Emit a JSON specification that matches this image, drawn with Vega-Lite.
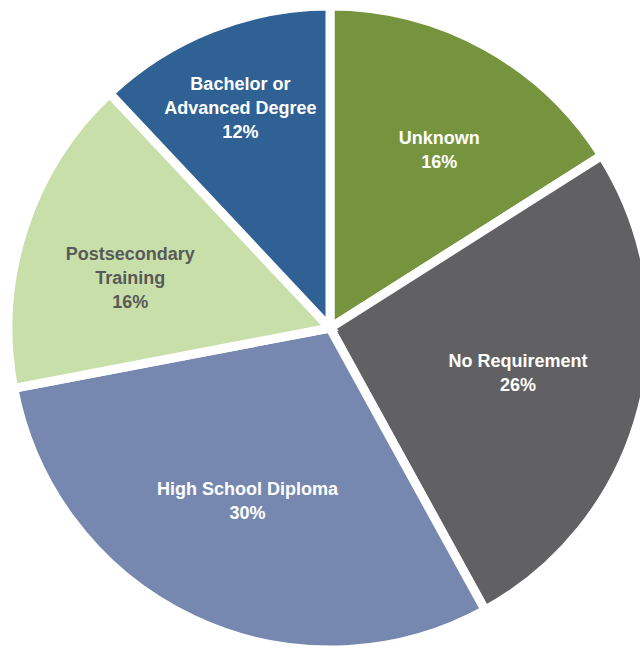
{
  "$schema": "https://vega.github.io/schema/vega-lite/v6.json",
  "width": 620,
  "height": 644,
  "autosize": {"type": "none"},
  "padding": {"left": 20, "top": 6, "right": 0, "bottom": 0},
  "background": "white",
  "data": {
    "values": [
      {"rank": 1, "category": "Unknown", "value": 16, "label": "Unknown\n16%"},
      {"rank": 2, "category": "No Requirement", "value": 26, "label": "No Requirement\n26%"},
      {"rank": 3, "category": "High School Diploma", "value": 30, "label": "High School Diploma\n30%"},
      {"rank": 4, "category": "Postsecondary Training", "value": 16, "label": "Postsecondary\nTraining\n16%"},
      {"rank": 5, "category": "Bachelor or Advanced Degree", "value": 12, "label": "Bachelor or\nAdvanced Degree\n12%"}
    ]
  },
  "encoding": {
    "theta": {"field": "value", "type": "quantitative", "stack": true},
    "order": {"field": "rank", "type": "quantitative"}
  },
  "layer": [
    {
      "mark": {"type": "arc", "outerRadius": 322, "stroke": "white", "strokeWidth": 9},
      "encoding": {
        "color": {
          "field": "category",
          "type": "nominal",
          "legend": null,
          "scale": {
            "domain": ["Unknown", "No Requirement", "High School Diploma", "Postsecondary Training", "Bachelor or Advanced Degree"],
            "range": ["#76943D", "#616163", "#7688AF", "#C8DFAA", "#2F6194"]
          }
        }
      }
    },
    {
      "mark": {"type": "text", "radius": 202, "dx": 12, "dy": -12, "font": "Liberation Sans", "fontWeight": "bold", "fontSize": 18, "lineBreak": "\n", "lineHeight": 24, "align": "center", "baseline": "middle", "color": "white"},
      "encoding": {
        "text": {"condition": {"test": "datum.category === 'Unknown'", "field": "label", "type": "nominal"}, "value": ""}
      }
    },
    {
      "mark": {"type": "text", "radius": 194, "dy": -14, "font": "Liberation Sans", "fontWeight": "bold", "fontSize": 18, "lineBreak": "\n", "lineHeight": 24, "align": "center", "baseline": "middle", "color": "white"},
      "encoding": {
        "text": {"condition": {"test": "datum.category === 'No Requirement' || datum.category === 'High School Diploma'", "field": "label", "type": "nominal"}, "value": ""}
      }
    },
    {
      "mark": {"type": "text", "radius": 210, "dy": -8, "font": "Liberation Sans", "fontWeight": "bold", "fontSize": 18, "lineBreak": "\n", "lineHeight": 24, "align": "center", "baseline": "middle", "color": "#595959"},
      "encoding": {
        "text": {"condition": {"test": "datum.category === 'Postsecondary Training'", "field": "label", "type": "nominal"}, "value": ""}
      }
    },
    {
      "mark": {"type": "text", "radius": 238, "dx": -2, "dy": -22, "font": "Liberation Sans", "fontWeight": "bold", "fontSize": 18, "lineBreak": "\n", "lineHeight": 24, "align": "center", "baseline": "middle", "color": "white"},
      "encoding": {
        "text": {"condition": {"test": "datum.category === 'Bachelor or Advanced Degree'", "field": "label", "type": "nominal"}, "value": ""}
      }
    }
  ]
}
